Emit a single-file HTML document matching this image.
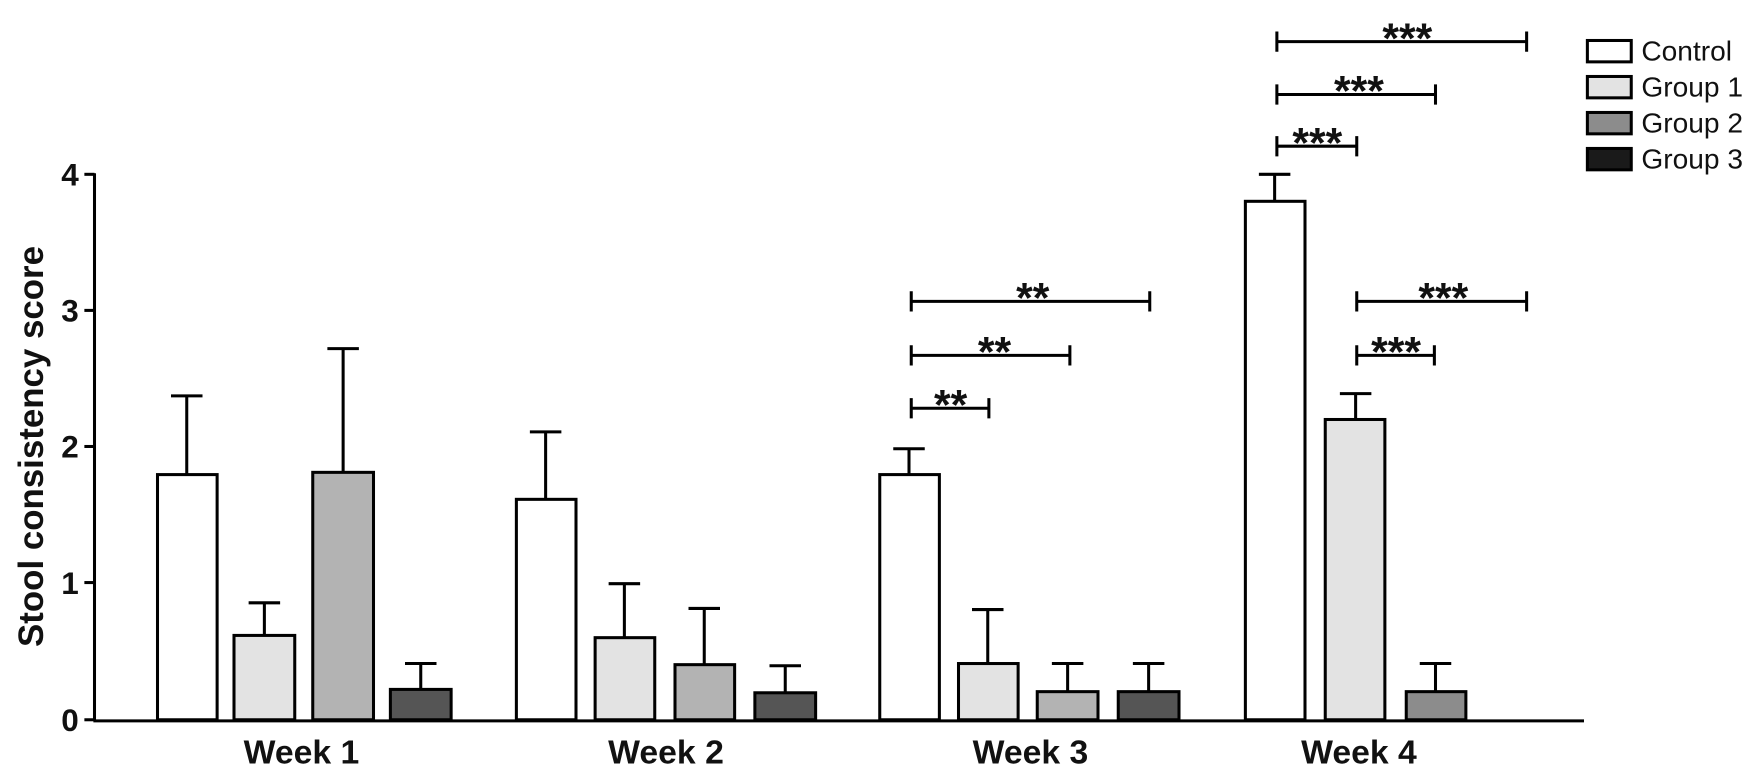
<!DOCTYPE html>
<html><head><meta charset="utf-8"><style>
html,body{margin:0;padding:0;background:#fff;}
svg{display:block;}
text{font-family:"Liberation Sans",Arial,sans-serif;fill:#111;}
</style></head><body>
<svg width="1764" height="776" viewBox="0 0 1568 690" preserveAspectRatio="none" xmlns="http://www.w3.org/2000/svg">
<g stroke="#000" stroke-width="2.7" fill="none">
<line x1="84" y1="154" x2="84" y2="641"/>
<line x1="83" y1="641" x2="1408" y2="641"/>
<line x1="75" y1="155" x2="84" y2="155"/>
<line x1="75" y1="276" x2="84" y2="276"/>
<line x1="75" y1="397" x2="84" y2="397"/>
<line x1="75" y1="518" x2="84" y2="518"/>
<line x1="75" y1="640" x2="84" y2="640"/>
</g>
<g font-weight="bold" font-size="28" text-anchor="end">
<text x="70" y="165">4</text>
<text x="70" y="286">3</text>
<text x="70" y="407">2</text>
<text x="70" y="528">1</text>
<text x="70" y="650">0</text>
</g>
<text transform="translate(38,397) rotate(-90)" text-anchor="middle" font-weight="bold" font-size="31">Stool consistency score</text>
<g font-weight="bold" font-size="30" text-anchor="middle">
<text x="268" y="679">Week 1</text>
<text x="592" y="679">Week 2</text>
<text x="916" y="679">Week 3</text>
<text x="1208" y="679">Week 4</text>
</g>
<g stroke="#000" stroke-width="2.7">
<line x1="166" y1="422" x2="166" y2="352"/><line x1="152" y1="352" x2="180" y2="352"/>
<rect x="140" y="422" width="53" height="218" fill="#fff"/>
<line x1="235" y1="565" x2="235" y2="536"/><line x1="221" y1="536" x2="249" y2="536"/>
<rect x="208" y="565" width="54" height="75" fill="#e3e3e3"/>
<line x1="305" y1="420" x2="305" y2="310"/><line x1="291" y1="310" x2="319" y2="310"/>
<rect x="278" y="420" width="54" height="220" fill="#b3b3b3"/>
<line x1="374" y1="613" x2="374" y2="590"/><line x1="360" y1="590" x2="388" y2="590"/>
<rect x="347" y="613" width="54" height="27" fill="#555"/>
<line x1="485" y1="444" x2="485" y2="384"/><line x1="471" y1="384" x2="499" y2="384"/>
<rect x="459" y="444" width="53" height="196" fill="#fff"/>
<line x1="555" y1="567" x2="555" y2="519"/><line x1="541" y1="519" x2="569" y2="519"/>
<rect x="529" y="567" width="53" height="73" fill="#e3e3e3"/>
<line x1="626" y1="591" x2="626" y2="541"/><line x1="612" y1="541" x2="640" y2="541"/>
<rect x="600" y="591" width="53" height="49" fill="#b3b3b3"/>
<line x1="698" y1="616" x2="698" y2="592"/><line x1="684" y1="592" x2="712" y2="592"/>
<rect x="671" y="616" width="54" height="24" fill="#555"/>
<line x1="808" y1="422" x2="808" y2="399"/><line x1="794" y1="399" x2="822" y2="399"/>
<rect x="782" y="422" width="53" height="218" fill="#fff"/>
<line x1="878" y1="590" x2="878" y2="542"/><line x1="864" y1="542" x2="892" y2="542"/>
<rect x="852" y="590" width="53" height="50" fill="#e3e3e3"/>
<line x1="949" y1="615" x2="949" y2="590"/><line x1="935" y1="590" x2="963" y2="590"/>
<rect x="922" y="615" width="54" height="25" fill="#b3b3b3"/>
<line x1="1021" y1="615" x2="1021" y2="590"/><line x1="1007" y1="590" x2="1035" y2="590"/>
<rect x="994" y="615" width="54" height="25" fill="#555"/>
<line x1="1133" y1="179" x2="1133" y2="155"/><line x1="1119" y1="155" x2="1147" y2="155"/>
<rect x="1107" y="179" width="53" height="461" fill="#fff"/>
<line x1="1205" y1="373" x2="1205" y2="350"/><line x1="1191" y1="350" x2="1219" y2="350"/>
<rect x="1178" y="373" width="53" height="267" fill="#e3e3e3"/>
<line x1="1276" y1="615" x2="1276" y2="590"/><line x1="1262" y1="590" x2="1290" y2="590"/>
<rect x="1250" y="615" width="53" height="25" fill="#8c8c8c"/>
</g>
<g stroke="#000" stroke-width="2.7" fill="none">
<path d="M810 354V372M810 363H879M879 354V372"/>
<path d="M810 307V325M810 316H951M951 307V325"/>
<path d="M810 259V277M810 268H1022M1022 259V277"/>
<path d="M1135 121V139M1135 130H1206M1206 121V139"/>
<path d="M1135 75V93M1135 84H1276M1276 75V93"/>
<path d="M1135 28V46M1135 37H1357M1357 28V46"/>
<path d="M1206 307V325M1206 316H1275M1275 307V325"/>
<path d="M1206 259V277M1206 268H1357M1357 259V277"/>
</g>
<g font-size="38" font-weight="bold" text-anchor="middle">
<text x="845" y="373">**</text>
<text x="884" y="326">**</text>
<text x="918" y="278">**</text>
<text x="1171" y="140">***</text>
<text x="1208" y="94">***</text>
<text x="1251" y="47">***</text>
<text x="1241" y="326">***</text>
<text x="1283" y="278">***</text>
</g>
<g stroke="#000" stroke-width="2.7">
<rect x="1411" y="36" width="39" height="19" fill="#fff"/>
<rect x="1411" y="68" width="39" height="19" fill="#e3e3e3"/>
<rect x="1411" y="100" width="39" height="19" fill="#8c8c8c"/>
<rect x="1411" y="132" width="39" height="19" fill="#1a1a1a"/>
</g>
<g font-size="25">
<text x="1459" y="54">Control</text>
<text x="1459" y="86">Group 1</text>
<text x="1459" y="118">Group 2</text>
<text x="1459" y="150">Group 3</text>
</g>
</svg>
</body></html>
